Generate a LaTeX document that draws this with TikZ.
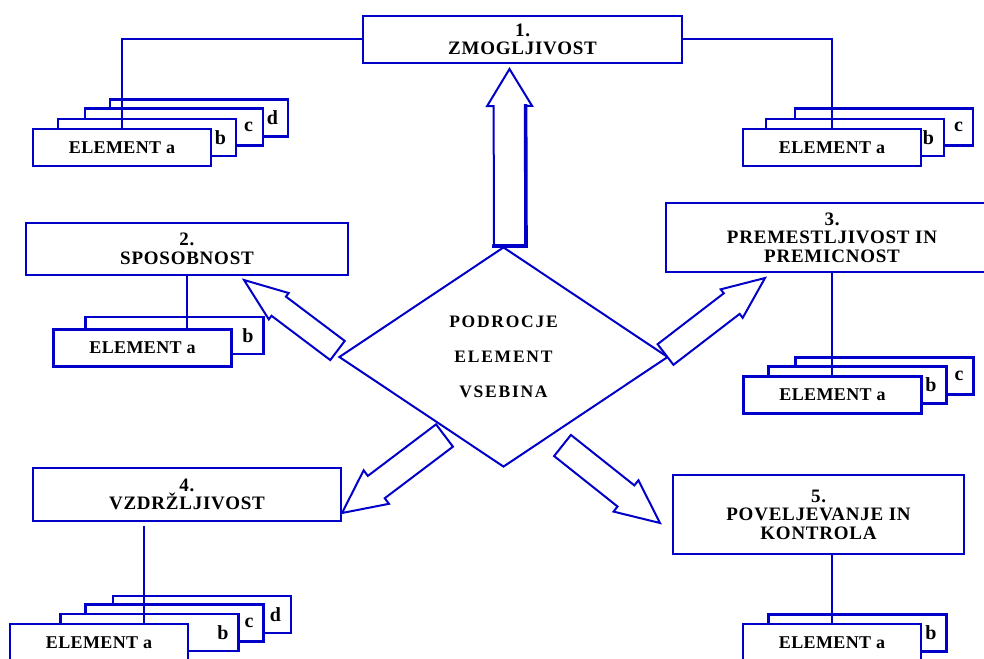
\documentclass[tikz,border=0pt]{standalone}
\usepackage{fontspec}
\setmainfont{Liberation Serif}
\newfontfamily\boxfont[LetterSpace=4]{Liberation Serif}
\newfontfamily\elemfont[LetterSpace=2]{Liberation Serif}
\newfontfamily\corefont[LetterSpace=10]{Liberation Serif}
\usetikzlibrary{calc,shapes.geometric}
\definecolor{chartblue}{RGB}{0,0,200}

% block arrow: name, tail, tip, shaft half-width, head half-width, head length
\newcommand{\blockarrow}[6]{%
  \coordinate (#1-base) at ($(#3)!#6pt!(#2)$);
  \draw[arrowline]
    ($(#2)!#4pt!90:(#3)$) coordinate (#1-tl) -- ($(#1-base)!#4pt!90:(#3)$) --
    ($(#1-base)!#5pt!90:(#3)$) -- (#3) --
    ($(#1-base)!#5pt!-90:(#3)$) -- ($(#1-base)!#4pt!-90:(#3)$) coordinate (#1-br) --
    ($(#2)!#4pt!-90:(#3)$) coordinate (#1-tr) -- cycle;
}

\tikzset{
  titlebox/.style={draw=chartblue, line width=2.2pt, fill=white, inner sep=0pt,
    align=center, font=\boxfont\bfseries\fontsize{19}{18.5}\selectfont},
  elembox/.style={draw=chartblue, line width=2.2pt, fill=white,
    minimum width=178pt, minimum height=37pt, inner sep=0pt,
    font=\elemfont\bfseries\fontsize{18}{18}\selectfont},
  backbox/.style={elembox, text width=158pt, align=right,
    font=\elemfont\bfseries\fontsize{20}{20}\selectfont},
  link/.style={draw=chartblue, line width=2pt},
  arrowline/.style={draw=chartblue, line width=2pt, fill=white, line join=miter},
  shadowline/.style={draw=chartblue, line width=3.6pt, line cap=rect},
}

\begin{document}
\begin{tikzpicture}[x=1pt, y=-1pt]
\useasboundingbox[fill=white] (0,0) rectangle (984,658);

% central diamond
\node[diamond, draw=chartblue, line width=2pt, fill=white, inner sep=0pt,
  minimum width=329pt, minimum height=220pt, align=center,
  font=\corefont\bfseries\fontsize{17.5}{35}\selectfont]
  (core) at (503.5,357) {PODROCJE\\ELEMENT\\VSEBINA};

% block arrows from the diamond towards the five areas
\coordinate (a1-tail) at (510,246);   \coordinate (a1-tip) at (509.5,69);
\coordinate (a2-tail) at (337.5,350.5); \coordinate (a2-tip) at (244,280);
\coordinate (a3-tail) at (665.5,354.5); \coordinate (a3-tip) at (765,278);
\coordinate (a4-tail) at (444.5,435.5); \coordinate (a4-tip) at (342,513);
\coordinate (a5-tail) at (562.5,445.5); \coordinate (a5-tip) at (660,523);
\blockarrow{a1}{a1-tail}{a1-tip}{16}{22.5}{37}
\draw[shadowline] (a1-br) -- (a1-tr) -- (a1-tl);
\blockarrow{a2}{a2-tail}{a2-tip}{12}{16.5}{43.5}
\blockarrow{a3}{a3-tail}{a3-tip}{13}{18}{42}
\blockarrow{a4}{a4-tail}{a4-tip}{14}{21}{43}
\blockarrow{a5}{a5-tail}{a5-tip}{13.5}{20}{43.5}

% area boxes
\node[titlebox, minimum width=319pt, minimum height=47pt] (box1) at (522.5,39.5) {1.\\ZMOGLJIVOST};
\node[titlebox, minimum width=322pt, minimum height=52pt] (box2) at (187,249) {2.\\SPOSOBNOST};
\node[titlebox, minimum width=332pt, minimum height=69pt] (box3) at (832,237.5) {3.\\PREMESTLJIVOST IN\\PREMICNOST};
\node[titlebox, minimum width=308pt, minimum height=53pt] (box4) at (187,494.5) {4.\\VZDRŽLJIVOST};
\node[titlebox, minimum width=291pt, minimum height=79pt] (box5) at (818.5,514.5) {5.\\POVELJEVANJE IN\\KONTROLA};

% element stacks of area 1 (left)
\node[backbox] (s1d) at (199,118) {d};
\node[backbox] (s1c) at (174,127) {c};
\node[backbox] (s1b) at (147,137.5) {b};
\node[elembox] (s1a) at (122,147.5) {ELEMENT a};
% element stacks of area 1 (right)
\node[backbox] (r1c) at (884,127) {c};
\node[backbox] (r1b) at (855,137.5) {b};
\node[elembox] (r1a) at (832,147.5) {ELEMENT a};
% area 2
\node[backbox] (s2b) at (174.5,335.5) {b};
\node[elembox] (s2a) at (142.5,348) {ELEMENT a};
% area 3
\node[backbox] (s3c) at (884.5,376) {c};
\node[backbox] (s3b) at (857.5,385) {b};
\node[elembox] (s3a) at (832.5,395) {ELEMENT a};
% area 4
\node[backbox] (s4d) at (202,614.5) {d};
\node[backbox] (s4c) at (174.5,623) {c};
\node[backbox] (s4b) at (149.5,632.5) {b};
\node[elembox] (s4a) at (99,642.5) {ELEMENT a};
% area 5
\node[backbox] (s5b) at (857.5,633) {b};
\node[elembox] (s5a) at (832,642.5) {ELEMENT a};

% connectors from the areas to their elements
\draw[link] (box1.west) -| (s1a.north);
\draw[link] (box1.east) -| (r1a.north);
\draw[link] (box2.south) -- (box2.south |- s2a.north);
\draw[link] (box3.south) -- (box3.south |- s3a.north);
\draw[link, shorten <=4pt] ($(box4.south west)!0.36!(box4.south east)$) coordinate (j4) -- (j4 |- s4a.north);
\draw[link] (s5a.north |- box5.south) -- (s5a.north);
\end{tikzpicture}
\end{document}
